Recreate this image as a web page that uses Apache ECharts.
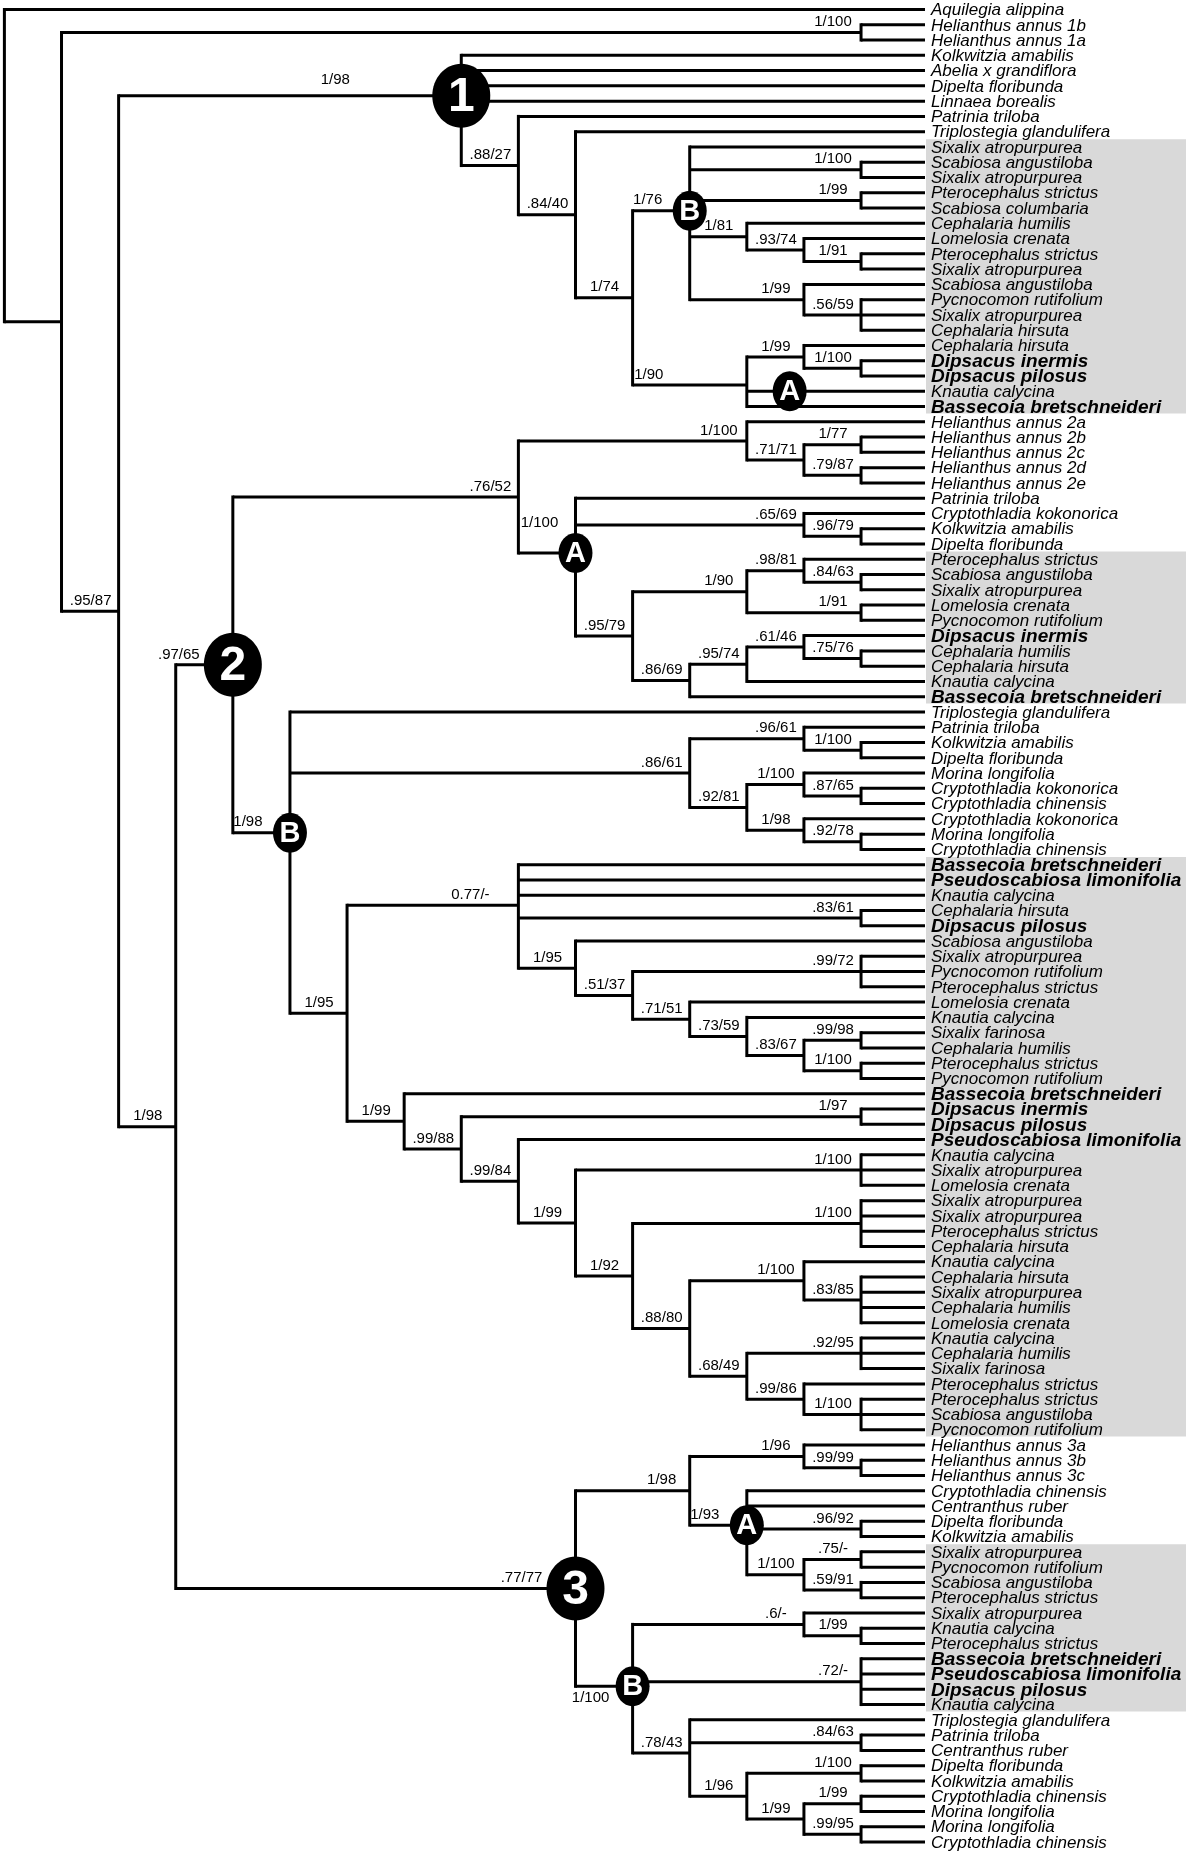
<!DOCTYPE html>
<html><head><meta charset="utf-8">
<script src="https://cdn.jsdelivr.net/npm/echarts@6/dist/echarts.min.js"></script>
<style>html,body{margin:0;padding:0;background:#fff}#c{width:1200px;height:1853px}</style>
</head><body><div id="c"></div>
<script>
// ---------- DATA ----------
const leafNames = [
 "Aquilegia alippina","Helianthus annus 1b","Helianthus annus 1a","Kolkwitzia amabilis","Abelia x grandiflora",
 "Dipelta floribunda","Linnaea borealis","Patrinia triloba","Triplostegia glandulifera","Sixalix atropurpurea",
 "Scabiosa angustiloba","Sixalix atropurpurea","Pterocephalus strictus","Scabiosa columbaria","Cephalaria humilis",
 "Lomelosia crenata","Pterocephalus strictus","Sixalix atropurpurea","Scabiosa angustiloba","Pycnocomon rutifolium",
 "Sixalix atropurpurea","Cephalaria hirsuta","Cephalaria hirsuta","Dipsacus inermis","Dipsacus pilosus",
 "Knautia calycina","Bassecoia bretschneideri","Helianthus annus 2a","Helianthus annus 2b","Helianthus annus 2c",
 "Helianthus annus 2d","Helianthus annus 2e","Patrinia triloba","Cryptothladia kokonorica","Kolkwitzia amabilis",
 "Dipelta floribunda","Pterocephalus strictus","Scabiosa angustiloba","Sixalix atropurpurea","Lomelosia crenata",
 "Pycnocomon rutifolium","Dipsacus inermis","Cephalaria humilis","Cephalaria hirsuta","Knautia calycina",
 "Bassecoia bretschneideri","Triplostegia glandulifera","Patrinia triloba","Kolkwitzia amabilis","Dipelta floribunda",
 "Morina longifolia","Cryptothladia kokonorica","Cryptothladia chinensis","Cryptothladia kokonorica","Morina longifolia",
 "Cryptothladia chinensis","Bassecoia bretschneideri","Pseudoscabiosa limonifolia","Knautia calycina","Cephalaria hirsuta",
 "Dipsacus pilosus","Scabiosa angustiloba","Sixalix atropurpurea","Pycnocomon rutifolium","Pterocephalus strictus",
 "Lomelosia crenata","Knautia calycina","Sixalix farinosa","Cephalaria humilis","Pterocephalus strictus",
 "Pycnocomon rutifolium","Bassecoia bretschneideri","Dipsacus inermis","Dipsacus pilosus","Pseudoscabiosa limonifolia",
 "Knautia calycina","Sixalix atropurpurea","Lomelosia crenata","Sixalix atropurpurea","Sixalix atropurpurea",
 "Pterocephalus strictus","Cephalaria hirsuta","Knautia calycina","Cephalaria hirsuta","Sixalix atropurpurea",
 "Cephalaria humilis","Lomelosia crenata","Knautia calycina","Cephalaria humilis","Sixalix farinosa",
 "Pterocephalus strictus","Pterocephalus strictus","Scabiosa angustiloba","Pycnocomon rutifolium","Helianthus annus 3a",
 "Helianthus annus 3b","Helianthus annus 3c","Cryptothladia chinensis","Centranthus ruber","Dipelta floribunda",
 "Kolkwitzia amabilis","Sixalix atropurpurea","Pycnocomon rutifolium","Scabiosa angustiloba","Pterocephalus strictus",
 "Sixalix atropurpurea","Knautia calycina","Pterocephalus strictus","Bassecoia bretschneideri","Pseudoscabiosa limonifolia",
 "Dipsacus pilosus","Knautia calycina","Triplostegia glandulifera","Patrinia triloba","Centranthus ruber",
 "Dipelta floribunda","Kolkwitzia amabilis","Cryptothladia chinensis","Morina longifolia","Morina longifolia",
 "Cryptothladia chinensis"
];
const boldTaxa = ["Dipsacus inermis","Dipsacus pilosus","Bassecoia bretschneideri","Pseudoscabiosa limonifolia"];
const shadedRanges = [[10,27],[37,46],[57,94],[102,112]];
// tree: l = node level (cladogram column), s = support, m = clade mark, c = children (numbers are leaf rows)
const tree = {l:0, c:[1,
 {l:1, c:[
  {l:15, s:'1/100', c:[2,3]},
  {l:2, s:'.95/87', c:[
   {l:8, s:'1/98', m:'1', c:[4,5,6,7,
    {l:9, s:'.88/27', c:[8,
     {l:10, s:'.84/40', c:[9,
      {l:11, s:'1/74', c:[
       {l:12, s:'1/76', m:'B', c:[10,
        {l:15, s:'1/100', c:[11,12]},
        {l:15, s:'1/99', c:[13,14]},
        {l:13, s:'1/81', c:[15, {l:14, s:'.93/74', c:[16, {l:15, s:'1/91', c:[17,18]}]}]},
        {l:14, s:'1/99', c:[19, {l:15, s:'.56/59', c:[20,21,22]}]}
       ]},
       {l:13, s:'1/90', c:[
        {l:14, s:'1/99', c:[23, {l:15, s:'1/100', c:[24,25]}]},
        26, 27]}
      ]}
     ]}
    ]}
   ]},
   {l:3, s:'1/98', c:[
    {l:4, s:'.97/65', m:'2', c:[
     {l:9, s:'.76/52', c:[
      {l:13, s:'1/100', c:[28, {l:14, s:'.71/71', c:[{l:15, s:'1/77', c:[29,30]}, {l:15, s:'.79/87', c:[31,32]}]}]},
      {l:10, s:'1/100', m:'A', c:[33,
       {l:14, s:'.65/69', c:[34, {l:15, s:'.96/79', c:[35,36]}]},
       {l:11, s:'.95/79', c:[
        {l:13, s:'1/90', c:[{l:14, s:'.98/81', c:[37, {l:15, s:'.84/63', c:[38,39]}]}, {l:15, s:'1/91', c:[40,41]}]},
        {l:12, s:'.86/69', c:[{l:13, s:'.95/74', c:[{l:14, s:'.61/46', c:[42, {l:15, s:'.75/76', c:[43,44]}]}, 45]}, 46]}
       ]}
      ]}
     ]},
     {l:5, s:'1/98', m:'B', c:[47,
      {l:12, s:'.86/61', c:[
       {l:14, s:'.96/61', c:[48, {l:15, s:'1/100', c:[49,50]}]},
       {l:13, s:'.92/81', c:[
        {l:14, s:'1/100', c:[51, {l:15, s:'.87/65', c:[52,53]}]},
        {l:14, s:'1/98', c:[54, {l:15, s:'.92/78', c:[55,56]}]}
       ]}
      ]},
      {l:6, s:'1/95', c:[
       {l:9, s:'0.77/-', c:[57,58,59, {l:15, s:'.83/61', c:[60,61]},
        {l:10, s:'1/95', c:[62,
         {l:11, s:'.51/37', c:[{l:15, s:'.99/72', c:[63,64,65]},
          {l:12, s:'.71/51', c:[66,
           {l:13, s:'.73/59', c:[67,
            {l:14, s:'.83/67', c:[{l:15, s:'.99/98', c:[68,69]}, {l:15, s:'1/100', c:[70,71]}]}
           ]}
          ]}
         ]}
        ]}
       ]},
       {l:7, s:'1/99', c:[72,
        {l:8, s:'.99/88', c:[{l:15, s:'1/97', c:[73,74]},
         {l:9, s:'.99/84', c:[75,
          {l:10, s:'1/99', c:[{l:15, s:'1/100', c:[76,77,78]},
           {l:11, s:'1/92', c:[{l:15, s:'1/100', c:[79,80,81,82]},
            {l:12, s:'.88/80', c:[
             {l:14, s:'1/100', c:[83, {l:15, s:'.83/85', c:[84,85,86,87]}]},
             {l:13, s:'.68/49', c:[{l:15, s:'.92/95', c:[88,89,90]},
              {l:14, s:'.99/86', c:[91, {l:15, s:'1/100', c:[92,93,94]}]}
             ]}
            ]}
           ]}
          ]}
         ]}
        ]}
       ]}
      ]}
     ]}
    ]},
    {l:10, s:'.77/77', m:'3', c:[
     {l:12, s:'1/98', c:[
      {l:14, s:'1/96', c:[95, {l:15, s:'.99/99', c:[96,97]}]},
      {l:13, s:'1/93', m:'A', c:[98, 99, {l:15, s:'.96/92', c:[100,101]},
       {l:14, s:'1/100', c:[{l:15, s:'.75/-', c:[102,103]}, {l:15, s:'.59/91', c:[104,105]}]}
      ]}
     ]},
     {l:11, s:'1/100', m:'B', c:[
      {l:14, s:'.6/-', c:[106, {l:15, s:'1/99', c:[107,108]}]},
      {l:15, s:'.72/-', c:[109,110,111,112]},
      {l:12, s:'.78/43', c:[113, {l:15, s:'.84/63', c:[114,115]},
       {l:13, s:'1/96', c:[{l:15, s:'1/100', c:[116,117]},
        {l:14, s:'1/99', c:[{l:15, s:'1/99', c:[118,119]}, {l:15, s:'.99/95', c:[120,121]}]}
       ]}
      ]}
     ]}
    ]}
   ]}
  ]}
 ]}
]};
const extraMarks = [{m:'A', leaf:26, level:13.75}];

// ---------- STYLE / PLACEMENT ----------
const labelTweaks = {'4-27':{dx:-72, dy:-5}, '23-27':{dx:-70}, '57-71':{dx:-20}, '33-46':{dx:6, dy:-20}, '106-121':{below:true}};
const FONT = '"Liberation Sans", Arial, Helvetica, sans-serif';
const LEAF_LEVEL = 16.12;   // tip column (leaf lines run slightly past the last node column)

// ---------- LAYOUT (cladogram: node row = mean of children rows) ----------
const segs = [], sups = [], marks = [];
function walk(n){
  if (typeof n === 'number') return {y:n, x:LEAF_LEVEL, lo:n, hi:n};
  const kids = n.c.map(walk);
  const y = kids.reduce((s,k)=>s+k.y,0)/kids.length;
  const lo = kids[0].lo, hi = kids[kids.length-1].hi;
  segs.push([n.l, kids[0].y, n.l, kids[kids.length-1].y, 1]);
  kids.forEach(k => segs.push([n.l, k.y, k.x, k.y, 0]));
  if (n.s) sups.push({x:n.l, y:y, text:n.s, mark:n.m || null, key:lo+'-'+hi});
  if (n.m) marks.push({x:n.l, y:y, text:n.m});
  return {y:y, x:n.l, lo:lo, hi:hi};
}
walk(tree);
extraMarks.forEach(e => marks.push({x:e.level, y:e.leaf, text:e.m}));

function isBig(t){ return /\d/.test(t); }

const chart = echarts.init(document.getElementById('c'), null, {renderer:'canvas', width:1200, height:1853});
chart.setOption({
  animation:false,
  backgroundColor:'#ffffff',
  grid:{left:4.4, right:275, top:9.5, bottom:11, containLabel:false},
  xAxis:{type:'value', min:0, max:LEAF_LEVEL, show:false},
  yAxis:{type:'value', min:1, max:leafNames.length, inverse:true, show:false},
  series:[
    { // shaded ingroup blocks
      type:'custom', z:1, clip:false, silent:true,
      data: shadedRanges.map(r => [LEAF_LEVEL, r[0], r[1]]),
      encode:{x:0, y:[1,2]},
      renderItem:function(params, api){
        const a = api.coord([api.value(0), api.value(1) - 0.5]);
        const b = api.coord([api.value(0), api.value(2) + 0.45]);
        return {type:'rect', shape:{x:a[0]+1, y:a[1], width:260, height:b[1]-a[1]}, style:{fill:'#d9d9d9'}};
      }
    },
    { // branches
      type:'custom', z:2, clip:false, silent:true,
      data: segs.map(s => s.slice()),
      encode:{x:[0,2], y:[1,3]},
      renderItem:function(params, api){
        const p1 = api.coord([api.value(0), api.value(1)]);
        const p2 = api.coord([api.value(2), api.value(3)]);
        const vert = api.value(4) === 1;
        return {type:'line', shape:{x1:p1[0], y1:p1[1], x2:p2[0], y2:p2[1]},
                style:{stroke:'#000', lineWidth:3, lineCap: vert ? 'square' : 'butt'}};
      }
    },
    { // support values
      type:'custom', z:3, clip:false, silent:true,
      data: sups.map(s => [s.x, s.y]),
      encode:{x:0, y:1},
      renderItem:function(params, api){
        const s = sups[params.dataIndex];
        const p = api.coord([api.value(0), api.value(1)]);
        const t = labelTweaks[s.key] || {};
        let off = 28;
        if (s.mark) off = (isBig(s.mark) ? 29 : 17) + 25;
        const x = p[0] - off + (t.dx || 0);
        const y = t.below ? p[1] + 4 : p[1] - 3 + (t.dy || 0);
        return {type:'text', x:x, y:y, style:{text:s.text, font:'15px ' + FONT, fill:'#000',
                align:'center', verticalAlign: t.below ? 'top' : 'bottom'}};
      }
    },
    { // clade marks
      type:'custom', z:4, clip:false, silent:true,
      data: marks.map(m => [m.x, m.y]),
      encode:{x:0, y:1},
      renderItem:function(params, api){
        const m = marks[params.dataIndex];
        const p = api.coord([api.value(0), api.value(1)]);
        const big = isBig(m.text);
        const rx = big ? 29 : 17, ry = big ? 32 : 20;
        return {type:'group', children:[
          {type:'ellipse', shape:{cx:p[0], cy:p[1], rx:rx, ry:ry}, style:{fill:'#000'}},
          {type:'text', x:p[0], y:p[1] + (big ? 2 : 1), style:{text:m.text, fill:'#fff',
            font:'bold ' + (big ? 48 : 29) + 'px ' + FONT, align:'center', verticalAlign:'middle'}}
        ]};
      }
    },
    { // leaf names
      type:'custom', z:5, clip:false, silent:true,
      data: leafNames.map((n,i) => [LEAF_LEVEL, i+1]),
      encode:{x:0, y:1},
      renderItem:function(params, api){
        const name = leafNames[params.dataIndex];
        const bold = boldTaxa.indexOf(name) >= 0;
        const p = api.coord([api.value(0), api.value(1)]);
        return {type:'text', x:p[0] + 6, y:p[1] + 1, style:{text:name, fill:'#000',
          font: (bold ? 'italic bold 19px ' : 'italic 17px ') + FONT, align:'left', verticalAlign:'middle'}};
      }
    }
  ]
});
</script></body></html>
